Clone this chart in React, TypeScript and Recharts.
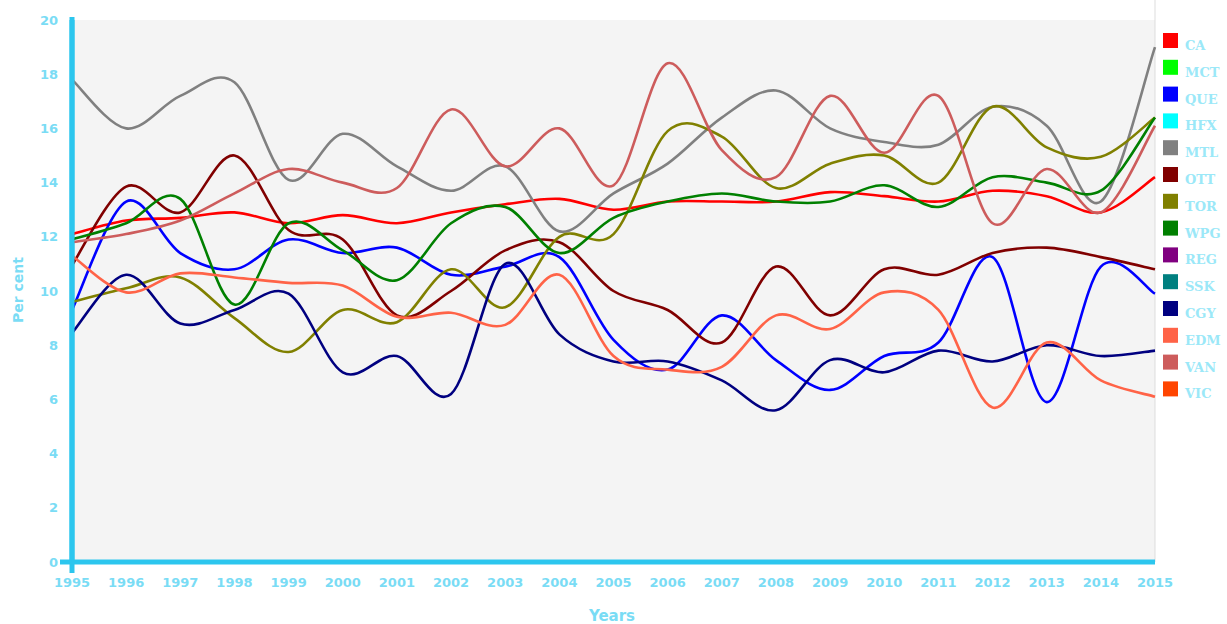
import { LineChart, Line, XAxis, YAxis, CartesianGrid } from "recharts";

const YEARS = [
  1995, 1996, 1997, 1998, 1999, 2000, 2001, 2002, 2003, 2004, 2005, 2006,
  2007, 2008, 2009, 2010, 2011, 2012, 2013, 2014, 2015,
];
const Y_TICKS = [0, 2, 4, 6, 8, 10, 12, 14, 16, 18, 20];

// per cent, one value per year
const CA = [12.1, 12.6, 12.7, 12.9, 12.5, 12.8, 12.5, 12.9, 13.2, 13.4, 13.0, 13.3, 13.3, 13.3, 13.65, 13.5, 13.3, 13.7, 13.5, 12.9, 14.2];
const QUE = [9.3, 13.3, 11.4, 10.8, 11.9, 11.4, 11.6, 10.6, 10.9, 11.25, 8.2, 7.1, 9.1, 7.45, 6.35, 7.6, 8.1, 11.25, 5.9, 10.9, 9.9];
const MTL = [17.8, 16.0, 17.2, 17.7, 14.1, 15.8, 14.6, 13.7, 14.6, 12.2, 13.6, 14.7, 16.4, 17.4, 16.0, 15.5, 15.4, 16.8, 16.1, 13.3, 19.0];
const OTT = [10.95, 13.85, 12.9, 15.0, 12.25, 11.9, 9.1, 10.0, 11.5, 11.8, 10.0, 9.3, 8.1, 10.9, 9.1, 10.8, 10.6, 11.4, 11.6, 11.25, 10.8];
const TOR = [9.6, 10.1, 10.5, 9.0, 7.75, 9.3, 8.85, 10.8, 9.4, 12.0, 12.1, 15.9, 15.7, 13.8, 14.7, 15.0, 14.0, 16.8, 15.3, 14.95, 16.4];
const WPG = [11.9, 12.5, 13.4, 9.5, 12.5, 11.5, 10.4, 12.5, 13.1, 11.4, 12.7, 13.3, 13.6, 13.3, 13.3, 13.9, 13.1, 14.2, 14.0, 13.7, 16.4];
const CGY = [8.45, 10.6, 8.8, 9.3, 9.9, 7.0, 7.6, 6.2, 11.0, 8.4, 7.4, 7.4, 6.7, 5.6, 7.45, 7.0, 7.8, 7.4, 8.0, 7.6, 7.8];
const EDM = [11.3, 9.95, 10.65, 10.5, 10.3, 10.2, 9.05, 9.2, 8.75, 10.6, 7.6, 7.1, 7.2, 9.1, 8.6, 9.95, 9.3, 5.7, 8.1, 6.7, 6.1];
const VAN = [11.8, 12.1, 12.6, 13.6, 14.5, 14.0, 13.8, 16.7, 14.6, 16.0, 13.9, 18.4, 15.2, 14.2, 17.2, 15.1, 17.2, 12.5, 14.5, 12.9, 16.1];

const SERIES: Array<{ name: string; color: string; values: number[] | null }> = [
  { name: "CA", color: "#ff0000", values: CA },
  { name: "MCT", color: "#00ff00", values: null },
  { name: "QUE", color: "#0000ff", values: QUE },
  { name: "HFX", color: "#00ffff", values: null },
  { name: "MTL", color: "#808080", values: MTL },
  { name: "OTT", color: "#800000", values: OTT },
  { name: "TOR", color: "#808000", values: TOR },
  { name: "WPG", color: "#008000", values: WPG },
  { name: "REG", color: "#800080", values: null },
  { name: "SSK", color: "#008080", values: null },
  { name: "CGY", color: "#000080", values: CGY },
  { name: "EDM", color: "#ff6347", values: EDM },
  { name: "VAN", color: "#cd5c5c", values: VAN },
  { name: "VIC", color: "#ff4500", values: null },
];

const data = YEARS.map((year, i) => {
  const row: Record<string, number> = { year };
  SERIES.forEach((s) => {
    if (s.values) row[s.name] = s.values[i];
  });
  return row;
});

const AXIS = "#2cc6ee";
const LABEL = "#7adcf5";
const TICK_FONT = { fill: LABEL, fontSize: 13, fontWeight: 700, fontFamily: "DejaVu Sans" };

// catmull-rom style spline through every point (local, overshoots a little)
const cardinalCurve = (context: any) => {
  let pts: Array<[number, number]> = [];
  return {
    areaStart() {},
    areaEnd() {},
    lineStart() {
      pts = [];
    },
    lineEnd() {
      if (!pts.length) return;
      context.moveTo(pts[0][0], pts[0][1]);
      for (let i = 0; i < pts.length - 1; i++) {
        const p0 = pts[i - 1] || pts[i];
        const p1 = pts[i];
        const p2 = pts[i + 1];
        const p3 = pts[i + 2] || p2;
        context.bezierCurveTo(
          p1[0] + (p2[0] - p0[0]) / 6,
          p1[1] + (p2[1] - p0[1]) / 6,
          p2[0] - (p3[0] - p1[0]) / 6,
          p2[1] - (p3[1] - p1[1]) / 6,
          p2[0],
          p2[1]
        );
      }
    },
    point(x: number, y: number) {
      pts.push([+x, +y]);
    },
  };
};

export default function App() {
  return (
    <div style={{ width: 1227, height: 624 }}>
      <style>{"body{margin:0}"}</style>
      <LineChart
        width={1227}
        height={624}
        data={data}
        margin={{ top: 20, right: 72, bottom: 32, left: 32 }}
      >
        <CartesianGrid fill="#f4f4f4" horizontal={false} vertical={false} />
        <XAxis
          dataKey="year"
          type="number"
          domain={[1995, 2015]}
          ticks={YEARS}
          interval={0}
          height={30}
          tickLine={false}
          tickMargin={10}
          tick={TICK_FONT}
          axisLine={{ stroke: AXIS, strokeWidth: 5 }}
        />
        <YAxis
          domain={[0, 20]}
          ticks={Y_TICKS}
          width={40}
          tickLine={false}
          tickMargin={8}
          tick={TICK_FONT}
          axisLine={{ stroke: AXIS, strokeWidth: 5 }}
        />
        {SERIES.filter((s) => s.values).map((s) => (
          <Line
            key={s.name}
            dataKey={s.name}
            type={cardinalCurve as any}
            stroke={s.color}
            strokeWidth={2.6}
            dot={false}
            activeDot={false}
            isAnimationActive={false}
          />
        ))}
        <line x1={1155} y1={0} x2={1155} y2={562} stroke="#dddddd" strokeWidth={1} />
        <line x1={60} y1={562} x2={72} y2={562} stroke={AXIS} strokeWidth={5} />
        <line x1={72} y1={17} x2={72} y2={573} stroke={AXIS} strokeWidth={5} />
        <text
          x={18}
          y={290}
          transform="rotate(-90 18 290)"
          textAnchor="middle"
          dominantBaseline="central"
          fill={LABEL}
          fontSize={14}
          fontWeight={700}
          fontFamily="DejaVu Sans"
        >
          Per cent
        </text>
        <text
          x={612}
          y={621}
          textAnchor="middle"
          fill={LABEL}
          fontSize={15}
          fontWeight={700}
          fontFamily="DejaVu Sans"
        >
          Years
        </text>
        <g>
          {SERIES.map((s, i) => (
            <g key={s.name} transform={`translate(1163, ${33 + i * 26.8})`}>
              <rect width={15} height={15} fill={s.color} />
              <text
                x={22}
                y={17}
                fill="#9be8f8"
                fontSize={13}
                fontWeight={700}
                fontFamily="DejaVu Serif"
              >
                {s.name}
              </text>
            </g>
          ))}
        </g>
      </LineChart>
    </div>
  );
}
